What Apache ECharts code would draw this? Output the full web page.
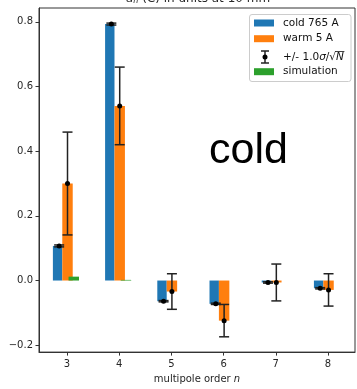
<!DOCTYPE html>
<html>
<head>
<meta charset="utf-8">
<script src="https://cdn.jsdelivr.net/npm/echarts@6/dist/echarts.min.js"></script>
<style>
  html, body { margin: 0; padding: 0; background: #fff; }
  #chart { width: 357px; height: 389px; }
</style>
</head>
<body>
<div id="chart"></div>
<script>
// multipole orders on the x axis
const orders = [3, 4, 5, 6, 7, 8]
const xTicks = [3, 4, 5, 6, 7, 8]
const yTicks = [-0.2, 0.0, 0.2, 0.4, 0.6, 0.8]

// a_n values
const coldValues = [0.107, 0.793, -0.064, -0.072, -0.006, -0.024]
const coldErrors = [0.003, 0.003, 0.002, 0.002, 0.002, 0.002]
const warmValues = [0.300, 0.540, -0.034, -0.124, -0.006, -0.029]
const warmErrors = [0.159, 0.120, 0.055, 0.050, 0.057, 0.050]
const simValues = [0.012, 0.002, 0, 0, 0, 0]

const legendLabels = ['cold 765 A', 'warm 5 A', '+/- 1.0', 'simulation']

const FONT = 'DejaVu Sans'
const INK = '#262626'
const LEG_SIZE = 10.5
const colors = { cold: '#1f77b4', warm: '#ff7f0e', sim: '#2ca02c' }

const chart = echarts.init(document.getElementById('chart'))

function barRender(x0, x1) {
  return function(params, api) {
    const n = api.value(0)
    const v = api.value(1)
    const p0 = api.coord([n + x0, v])
    const p1 = api.coord([n + x1, 0])
    return {
      type: 'rect',
      shape: {
        x: p0[0],
        y: Math.min(p0[1], p1[1]),
        width: p1[0] - p0[0],
        height: Math.abs(p1[1] - p0[1])
      },
      style: { fill: api.visual('color') }
    }
  }
}

function errRender(dx) {
  return function(params, api) {
    const n = api.value(0) + dx
    const v = api.value(1)
    const e = api.value(2)
    const c = api.coord([n, v])
    const hi = api.coord([n, v + e])
    const lo = api.coord([n, v - e])
    const cap = 5
    const st = { stroke: '#222', lineWidth: 1.5 }
    return {
      type: 'group',
      children: [
        { type: 'line', shape: { x1: c[0], y1: hi[1], x2: c[0], y2: lo[1] }, style: st },
        { type: 'line', shape: { x1: c[0] - cap, y1: hi[1], x2: c[0] + cap, y2: hi[1] }, style: st },
        { type: 'line', shape: { x1: c[0] - cap, y1: lo[1], x2: c[0] + cap, y2: lo[1] }, style: st },
        { type: 'circle', shape: { cx: c[0], cy: c[1], r: 2.5 }, style: { fill: '#000' }}
      ]
    }
  }
}

function pairs(vals, errs) {
  return orders.map((n, i) => errs ? [n, vals[i], errs[i]] : [n, vals[i]])
}

// measure text so the overline sits on the N of the legend entry
const ctx = document.createElement('canvas').getContext('2d')
const legFont = LEG_SIZE + 'px "' + FONT + '"'
const legItalic = 'italic ' + legFont
ctx.font = legFont
const errHead = legendLabels[2]
const wHead = ctx.measureText(errHead).width
const wSlash = ctx.measureText('/').width
const wRoot = ctx.measureText('√').width
ctx.font = legItalic
const wSigma = ctx.measureText('σ').width
const wN = ctx.measureText('N').width

const legX = 283
const legRows = [23, 38.7, 57, 71.7]
const ovX0 = legX + wHead + wSigma + wSlash + wRoot - 1
const ovX1 = ovX0 + wN + 1.5

chart.setOption({
  backgroundColor: '#fff',
  animation: false,
  grid: {
    left: 39,
    right: 2,
    top: 8,
    bottom: 32,
    show: true,
    borderColor: '#333',
    borderWidth: 1
  },
  xAxis: {
    type: 'value',
    min: 2.464,
    max: 8.517,
    splitLine: { show: false },
    axisLine: { show: true, onZero: false, lineStyle: { color: '#333' }},
    axisTick: { show: true, length: 3.5, lineStyle: { color: '#333' }, customValues: xTicks },
    axisLabel: {
      customValues: xTicks,
      color: INK,
      fontFamily: FONT,
      fontSize: 10,
      margin: 7
    },
    name: 'multipole order {it|n}',
    nameLocation: 'middle',
    nameGap: 21,
    nameTextStyle: {
      color: INK,
      fontFamily: FONT,
      fontSize: 10,
      rich: { it: { fontStyle: 'italic', fontFamily: FONT, fontSize: 10, color: INK }}
    }
  },
  yAxis: {
    type: 'value',
    min: -0.2213,
    max: 0.8427,
    splitLine: { show: false },
    axisLine: { show: true, onZero: false, lineStyle: { color: '#333' }},
    axisTick: { show: true, length: 3.5, lineStyle: { color: '#333' }, customValues: yTicks },
    axisLabel: {
      customValues: yTicks,
      color: INK,
      fontFamily: FONT,
      fontSize: 10,
      margin: 6,
      formatter: v => v.toFixed(1).replace('-', '\u2212')
    }
  },
  series: [
    {
      name: legendLabels[0],
      type: 'custom',
      renderItem: barRender(-0.27, -0.09),
      itemStyle: { color: colors.cold },
      encode: { x: 0, y: 1 },
      data: pairs(coldValues),
      z: 2
    },
    {
      name: legendLabels[1],
      type: 'custom',
      renderItem: barRender(-0.09, 0.11),
      itemStyle: { color: colors.warm },
      encode: { x: 0, y: 1 },
      data: pairs(warmValues),
      z: 3
    },
    {
      name: legendLabels[3],
      type: 'custom',
      renderItem: barRender(0.03, 0.23),
      itemStyle: { color: colors.sim },
      encode: { x: 0, y: 1 },
      data: pairs(simValues),
      z: 4
    },
    {
      type: 'custom',
      renderItem: errRender(-0.15),
      encode: { x: 0, y: 1 },
      data: pairs(coldValues, coldErrors),
      z: 5
    },
    {
      type: 'custom',
      renderItem: errRender(0.01),
      encode: { x: 0, y: 1 },
      data: pairs(warmValues, warmErrors),
      z: 5
    }
  ],
  graphic: [
    // title, clipped at the top like in the picture
    {
      type: 'text',
      style: {
        text: '{i|a}{s|n} (C) in units at 10 mm',
        x: 198,
        y: -1,
        align: 'center',
        verticalAlign: 'middle',
        fill: INK,
        font: '12px "' + FONT + '"',
        rich: {
          i: { fontStyle: 'italic', fontSize: 12, fontFamily: FONT, fill: INK },
          s: { fontStyle: 'italic', fontSize: 8, fontFamily: FONT, fill: INK, verticalAlign: 'bottom' }
        }
      },
      z: 10
    },
    {
      type: 'text',
      style: {
        text: 'cold',
        x: 209,
        y: 151,
        verticalAlign: 'middle',
        font: '43px "Liberation Sans"',
        fill: '#000'
      },
      z: 10
    },
    // legend box
    {
      type: 'rect',
      shape: { x: 249.5, y: 14.5, width: 101.5, height: 67, r: 2.5 },
      style: { fill: 'rgba(255,255,255,0.8)', stroke: '#cccccc', lineWidth: 1 },
      z: 20
    },
    { type: 'rect', shape: { x: 254, y: legRows[0] - 3.5, width: 20, height: 7 }, style: { fill: colors.cold }, z: 21 },
    { type: 'rect', shape: { x: 254, y: legRows[1] - 3.5, width: 20, height: 7 }, style: { fill: colors.warm }, z: 21 },
    { type: 'rect', shape: { x: 254, y: legRows[3] - 3.5, width: 20, height: 7 }, style: { fill: colors.sim }, z: 21 },
    { type: 'line', shape: { x1: 265, y1: 51, x2: 265, y2: 63 }, style: { stroke: '#222', lineWidth: 1.5 }, z: 21 },
    { type: 'line', shape: { x1: 261, y1: 51, x2: 269, y2: 51 }, style: { stroke: '#222', lineWidth: 1.5 }, z: 21 },
    { type: 'line', shape: { x1: 261, y1: 63, x2: 269, y2: 63 }, style: { stroke: '#222', lineWidth: 1.5 }, z: 21 },
    { type: 'circle', shape: { cx: 265, cy: 57, r: 2.5 }, style: { fill: '#000' }, z: 21 },
    { type: 'text', style: { text: legendLabels[0], x: legX, y: legRows[0], verticalAlign: 'middle', font: legFont, fill: '#111' }, z: 21 },
    { type: 'text', style: { text: legendLabels[1], x: legX, y: legRows[1], verticalAlign: 'middle', font: legFont, fill: '#111' }, z: 21 },
    {
      type: 'text',
      style: {
        text: errHead + '{i|σ}/√{i|N}',
        x: legX,
        y: legRows[2],
        verticalAlign: 'middle',
        font: legFont,
        fill: '#111',
        rich: { i: { fontStyle: 'italic', fontSize: LEG_SIZE, fontFamily: FONT, fill: '#111' }}
      },
      z: 21
    },
    { type: 'line', shape: { x1: ovX0, y1: 51.5, x2: ovX1, y2: 51.5 }, style: { stroke: '#111', lineWidth: 0.8 }, z: 21 },
    { type: 'text', style: { text: legendLabels[3], x: legX, y: legRows[3], verticalAlign: 'middle', font: legFont, fill: '#111' }, z: 21 }
  ]
})
</script>
</body>
</html>
